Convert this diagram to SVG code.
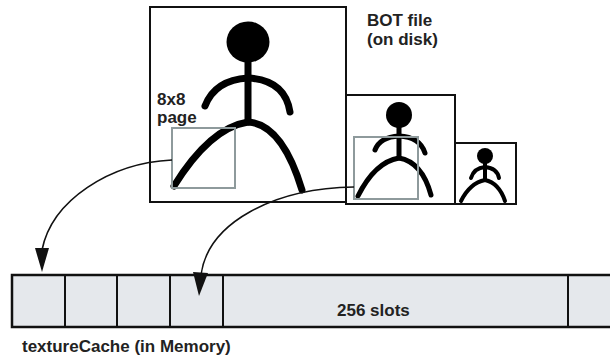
<svg xmlns="http://www.w3.org/2000/svg" width="610" height="360" viewBox="0 0 610 360">
  <style>
    .frame { fill: none; stroke: #111; stroke-width: 2; }
    .page { fill: none; stroke: #8e9a9c; stroke-width: 2; }
    .limb { fill: none; stroke: #000; stroke-linecap: round; }
    .slot { fill: #e5e8ec; stroke: #111; stroke-width: 2.5; }
    .div { stroke: #111; stroke-width: 2; }
    .lbl { font-family: "Liberation Sans", Arial, sans-serif; font-weight: bold; font-size: 17px; fill: #222; }
    .link { fill: none; stroke: #111; stroke-width: 1.6; }
    .tip { fill: #111; }
  </style>

  <rect width="610" height="360" fill="#fff"/>

  <!-- level 0: full-size texture on disk -->
  <g id="bot-level0">
    <rect class="frame" x="150" y="7" width="196" height="195"/>
    <ellipse cx="248" cy="42" rx="21.5" ry="20.5" fill="#000"/>
    <path class="limb" stroke-width="7" d="M248,60 V122"/>
    <path class="limb" stroke-width="7" d="M205,106 Q215,80 248,78 Q285,80 290,112"/>
    <path class="limb" stroke-width="7" d="M174,186 Q210,128 248,122 Q282,124 302,190"/>
    <rect class="page" x="172" y="128" width="63" height="60"/>
    <text class="lbl" x="157" y="105" font-size="16">8x8</text>
    <text class="lbl" x="157" y="123" font-size="16">page</text>
  </g>

  <!-- level 1: half-size mip -->
  <g id="bot-level1">
    <rect class="frame" x="346" y="95" width="109" height="109"/>
    <circle cx="399" cy="115" r="13" fill="#000"/>
    <path class="limb" stroke-width="5" d="M399,124 V158"/>
    <path class="limb" stroke-width="5" d="M375,150 Q380,137 399,136 Q420,137 425,153"/>
    <path class="limb" stroke-width="5" d="M358,196 Q375,162 399,158 Q422,162 431,195"/>
    <rect class="page" x="354" y="137" width="64" height="62"/>
  </g>

  <!-- level 2: quarter-size mip -->
  <g id="bot-level2">
    <rect class="frame" x="455" y="143" width="61" height="61"/>
    <circle cx="485" cy="156" r="8" fill="#000"/>
    <path class="limb" stroke-width="4" d="M485,160 V180"/>
    <path class="limb" stroke-width="4" d="M471,178 Q474,168 485,167 Q497,168 499,178"/>
    <path class="limb" stroke-width="4" d="M461,201 Q470,183 485,180 Q499,183 505,201"/>
  </g>

  <text id="bot-file-label" class="lbl" x="367" y="26">BOT file<tspan x="367" y="44.5">(on disk)</tspan></text>

  <!-- in-memory cache of 256 page slots -->
  <g id="texture-cache">
    <rect class="slot" x="12" y="275" width="605" height="52"/>
    <line class="div" x1="65" y1="275" x2="65" y2="327"/>
    <line class="div" x1="117" y1="275" x2="117" y2="327"/>
    <line class="div" x1="170" y1="275" x2="170" y2="327"/>
    <line class="div" x1="223" y1="275" x2="223" y2="327"/>
    <line class="div" x1="568" y1="275" x2="568" y2="327"/>
    <text class="lbl" x="337" y="316" font-size="20">256 slots</text>
  </g>
  <text id="cache-label" class="lbl" x="22" y="352" font-size="20">textureCache (in Memory)</text>

  <g id="connectors">
    <path class="link" d="M172,160 C110,163 52,200 42,250"/>
    <path class="tip" d="M35,248 L49,248 L42,272 Z"/>
    <path class="link" d="M354,187 C275,188 208,222 201,275"/>
    <path class="tip" d="M193,272 L208,273 L199,296 Z"/>
  </g>
</svg>
